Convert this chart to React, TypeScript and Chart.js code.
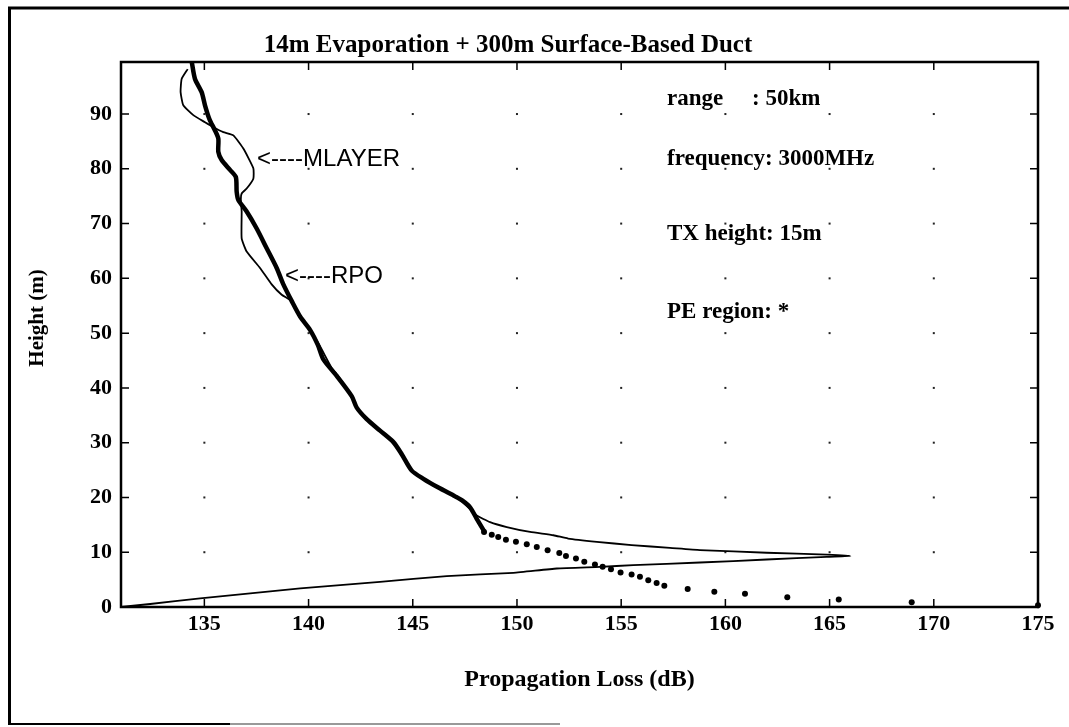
import React, { useEffect, useRef } from 'react';
import { Chart, registerables } from 'chart.js';

Chart.register(...registerables);

// Axis ticks
const xTicks = [135, 140, 145, 150, 155, 160, 165, 170, 175];
const yTicks = [0, 10, 20, 30, 40, 50, 60, 70, 80, 90];
const xMin = 131;
const xMax = 175;
const yMin = 0;
const yMax = 99.5;

// RPO (thick curve): propagation loss (dB) vs height (m)
const rpoLoss = [134.4, 134.55, 134.87, 135.03, 135.24, 135.51, 135.67, 135.67, 135.83, 136.23, 136.51, 136.55, 136.63, 137.03, 137.51, 137.99, 138.47, 138.79, 139.2, 139.6, 140.07, 140.45, 140.71, 141.35, 142.07, 142.31, 142.79, 143.43, 144.07, 144.47, 144.95, 145.51, 146.23, 147.03, 147.35, 147.75, 148.07, 148.4];
const rpoHeight = [99.4, 96.4, 94.0, 91.6, 89.1, 87.0, 85.5, 83.1, 81.6, 79.8, 78.5, 75.8, 74.3, 72.2, 69.1, 65.5, 61.9, 58.9, 55.8, 53.0, 50.6, 47.8, 45.2, 42.2, 38.5, 36.4, 34.3, 32.2, 30.1, 27.9, 24.9, 23.4, 21.8, 20.2, 19.5, 18.2, 16.1, 14.0];

// MLAYER (thin curve)
const mlayerLoss = [134.2, 133.91, 133.86, 133.99, 134.47, 135.03, 135.43, 135.91, 136.39, 136.87, 137.35, 137.35, 137.03, 136.79, 136.75, 136.79, 136.79, 137.03, 137.67, 138.23, 138.71, 139.2, 139.6, 140.07, 140.55, 141.1, 141.45, 142.07, 142.31, 142.79, 143.43, 144.07, 144.47, 144.95, 145.51, 146.23, 147.03, 147.5, 148.07, 148.71, 149.51, 150.63, 151.75, 152.45, 153.83, 155.5, 157.34, 158.78, 161.98, 164.86, 166.0, 164.86, 161.98, 158.78, 155.58, 153.98, 151.91, 149.83, 146.63, 143.43, 139.6, 134.8, 132.4, 131.0];
const mlayerHeight = [98.2, 96.4, 94.0, 91.6, 89.8, 88.5, 87.6, 86.7, 86.1, 83.7, 80.1, 78.2, 76.4, 75.5, 74.5, 72.2, 67.3, 64.9, 61.9, 58.9, 57.0, 55.8, 53.0, 50.6, 47.6, 43.7, 42.0, 38.5, 36.4, 34.3, 32.2, 30.1, 27.9, 24.9, 23.4, 21.8, 20.2, 18.8, 16.7, 15.5, 14.6, 13.7, 13.1, 12.5, 11.9, 11.3, 10.8, 10.4, 9.9, 9.55, 9.3, 9.15, 8.67, 8.12, 7.64, 7.33, 7.03, 6.24, 5.64, 4.6, 3.4, 1.58, 0.55, 0.0];

// PE region (dots)
const peLoss = [148.42, 148.79, 149.1, 149.47, 149.95, 150.47, 150.95, 151.47, 152.03, 152.35, 152.83, 153.23, 153.74, 154.11, 154.51, 154.97, 155.5, 155.9, 156.3, 156.7, 157.07, 158.19, 159.47, 160.94, 162.97, 165.44, 168.94, 175.0];
const peHeight = [13.7, 13.2, 12.8, 12.3, 11.9, 11.45, 10.96, 10.36, 9.87, 9.33, 8.85, 8.24, 7.76, 7.33, 6.9, 6.3, 5.94, 5.5, 4.9, 4.4, 3.87, 3.27, 2.79, 2.42, 1.76, 1.39, 0.85, 0.3];

// Text
const titleText = '14m Evaporation + 300m Surface-Based Duct';
const xTitle = 'Propagation Loss (dB)';
const yTitle = 'Height (m)';
const infoLines = ['range     : 50km', 'frequency: 3000MHz', 'TX height: 15m', 'PE region: *'];
const infoX = 157.2;
const infoY = [92.8, 81.7, 68.1, 53.9];
const curveLabels = ['<----MLAYER', '<----RPO'];
const curveLabelX = [137.53, 138.87];
const curveLabelY = [81.7, 60.3];

const toPoints = (xs: number[], ys: number[]) => xs.map((v, i) => ({ x: v, y: ys[i] }));

const serif = '"Liberation Serif", "Times New Roman", serif';
const sans = '"Liberation Sans", Arial, sans-serif';

const decorPlugin = {
  id: 'decor',
  beforeDraw(chart: any) {
    const ctx = chart.ctx;
    ctx.save();
    ctx.fillStyle = '#fff';
    ctx.fillRect(0, 0, chart.width, chart.height);
    ctx.strokeStyle = '#000';
    ctx.lineWidth = 3;
    ctx.beginPath();
    ctx.moveTo(8, 8);
    ctx.lineTo(chart.width, 8);
    ctx.moveTo(9.5, 7);
    ctx.lineTo(9.5, chart.height - 4);
    ctx.stroke();
    ctx.lineWidth = 2;
    ctx.beginPath();
    ctx.moveTo(8, chart.height - 3);
    ctx.lineTo(230, chart.height - 3);
    ctx.stroke();
    ctx.strokeStyle = '#999';
    ctx.beginPath();
    ctx.moveTo(230, chart.height - 3);
    ctx.lineTo(560, chart.height - 3);
    ctx.stroke();
    ctx.restore();
  },
  beforeDatasetsDraw(chart: any) {
    const { ctx, scales } = chart;
    const x = scales.x;
    const y = scales.y;
    ctx.save();
    ctx.fillStyle = '#222';
    xTicks.slice(0, -1).forEach((xv) => {
      yTicks.slice(1).forEach((yv) => {
        const px = x.getPixelForValue(xv);
        const py = y.getPixelForValue(yv);
        ctx.fillRect(px - 1, py - 1, 2, 2);
      });
    });
    ctx.restore();
  },
  afterDatasetsDraw(chart: any) {
    const { ctx, chartArea: a, scales } = chart;
    const x = scales.x;
    const y = scales.y;
    ctx.save();
    ctx.strokeStyle = '#000';
    ctx.lineWidth = 2.5;
    ctx.strokeRect(a.left, a.top, a.right - a.left, a.bottom - a.top);
    ctx.lineWidth = 1.5;
    const tl = 8;
    ctx.beginPath();
    xTicks.forEach((xv) => {
      const px = x.getPixelForValue(xv);
      ctx.moveTo(px, a.bottom);
      ctx.lineTo(px, a.bottom - tl);
      ctx.moveTo(px, a.top);
      ctx.lineTo(px, a.top + tl);
    });
    yTicks.forEach((yv) => {
      const py = y.getPixelForValue(yv);
      ctx.moveTo(a.left, py);
      ctx.lineTo(a.left + tl, py);
      ctx.moveTo(a.right, py);
      ctx.lineTo(a.right - tl, py);
    });
    ctx.stroke();

    ctx.fillStyle = '#000';
    // title
    ctx.font = `bold 25px ${serif}`;
    ctx.textAlign = 'center';
    ctx.textBaseline = 'middle';
    ctx.fillText(titleText, 508, 46);

    // y axis title
    ctx.save();
    ctx.translate(38, 318);
    ctx.rotate(-Math.PI / 2);
    ctx.font = `bold 21px ${serif}`;
    ctx.fillText(yTitle, 0, 0);
    ctx.restore();

    // info lines
    ctx.textAlign = 'left';
    ctx.font = `bold 23px ${serif}`;
    infoLines.forEach((t, i) => {
      ctx.fillText(t, x.getPixelForValue(infoX), y.getPixelForValue(infoY[i]));
    });

    // curve labels
    ctx.font = `24px ${sans}`;
    curveLabels.forEach((t, i) => {
      ctx.fillText(t, x.getPixelForValue(curveLabelX[i]), y.getPixelForValue(curveLabelY[i]));
    });
    ctx.restore();
  },
};

export default function App() {
  const canvasRef = useRef<HTMLCanvasElement | null>(null);

  useEffect(() => {
    const canvas = canvasRef.current;
    if (!canvas) return;
    const chart = new Chart(canvas, {
      type: 'scatter',
      data: {
        datasets: [
          {
            label: 'RPO',
            data: toPoints(rpoLoss, rpoHeight),
            showLine: true,
            borderColor: '#000',
            backgroundColor: '#000',
            borderWidth: 4.5,
            pointRadius: 0,
            tension: 0.25,
            borderCapStyle: 'round',
            borderJoinStyle: 'round',
          },
          {
            label: 'MLAYER',
            data: toPoints(mlayerLoss, mlayerHeight),
            showLine: true,
            borderColor: '#000',
            backgroundColor: '#000',
            borderWidth: 1.8,
            pointRadius: 0,
            tension: 0.15,
            borderJoinStyle: 'round',
          },
          {
            label: 'PE region',
            data: toPoints(peLoss, peHeight),
            showLine: false,
            borderColor: '#000',
            backgroundColor: '#000',
            pointRadius: 3,
            pointBorderWidth: 0,
            clip: 6,
          },
        ],
      } as any,
      options: {
        animation: false,
        responsive: false,
        maintainAspectRatio: false,
        devicePixelRatio: 1,
        layout: { padding: { left: 0, right: 31, top: 62, bottom: 0 } },
        plugins: {
          legend: { display: false },
          tooltip: { enabled: false },
          title: { display: false },
        },
        scales: {
          x: {
            type: 'linear',
            min: xMin,
            max: xMax,
            position: 'bottom',
            afterBuildTicks: (s: any) => {
              s.ticks = xTicks.map((v) => ({ value: v }));
            },
            afterFit: (s: any) => {
              s.height = 120;
            },
            grid: { display: false, drawTicks: false },
            border: { display: false },
            ticks: {
              color: '#000',
              font: { family: serif, size: 22, weight: 'bold' },
              padding: 4,
              maxRotation: 0,
              autoSkip: false,
            },
            title: {
              display: true,
              text: xTitle,
              color: '#000',
              font: { family: serif, size: 24, weight: 'bold' },
              padding: { top: 0, bottom: 33 },
            },
          },
          y: {
            type: 'linear',
            min: yMin,
            max: yMax,
            afterBuildTicks: (s: any) => {
              s.ticks = yTicks.map((v) => ({ value: v }));
            },
            afterFit: (s: any) => {
              s.width = 121;
            },
            grid: { display: false, drawTicks: false },
            border: { display: false },
            ticks: {
              color: '#000',
              font: { family: serif, size: 22, weight: 'bold' },
              padding: 9,
              autoSkip: false,
            },
          },
        },
      } as any,
      plugins: [decorPlugin],
    });
    return () => chart.destroy();
  }, []);

  return (
    <div style={{ position: 'fixed', left: 0, top: 0, width: 1069, height: 727, background: '#fff' }}>
      <canvas ref={canvasRef} width={1069} height={727} style={{ display: 'block', width: 1069, height: 727 }} />
    </div>
  );
}
